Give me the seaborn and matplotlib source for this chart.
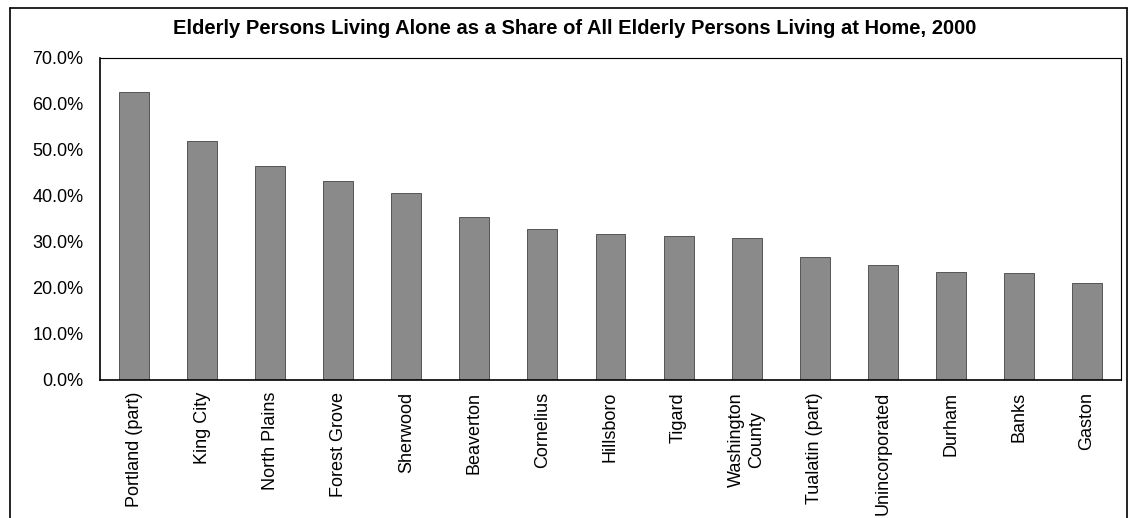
import matplotlib
matplotlib.use("Agg")
import matplotlib.pyplot as plt
import seaborn as sns
import pandas as pd
from matplotlib.ticker import PercentFormatter, FixedLocator

# Datos
lugares = ["Portland (part)", "King City", "North Plains", "Forest Grove", "Sherwood",
           "Beaverton", "Cornelius", "Hillsboro", "Tigard", "Washington\nCounty",
           "Tualatin (part)", "Unincorporated", "Durham", "Banks", "Gaston"]
porcentajes = [62.4, 51.9, 46.4, 43.2, 40.6, 35.4, 32.7, 31.7, 31.3, 30.7,
               26.7, 24.9, 23.3, 23.2, 21.0]

df = pd.DataFrame({"lugar": lugares, "pct": porcentajes})

sns.set_style("white")
plt.rcParams["font.family"] = ["Liberation Sans", "DejaVu Sans"]
plt.rcParams["text.color"] = "black"
plt.rcParams["xtick.color"] = "black"
plt.rcParams["ytick.color"] = "black"

fig = plt.figure(figsize=(11.3, 5.18), dpi=100)
ax = fig.add_axes([100 / 1130, 1 - 379.5 / 518, 1021 / 1130, 322 / 518])

sns.barplot(data=df, x="lugar", y="pct", color="#8a8a8a", width=0.44,
            edgecolor="#444444", linewidth=0.6, saturation=1, ax=ax)

ax.set_ylim(0, 70)
ax.set_xlim(-0.5, len(lugares) - 0.5)
ax.yaxis.set_major_formatter(PercentFormatter(decimals=1))
ax.set_yticks(range(0, 71, 10))
ax.set_xlabel("")
ax.set_ylabel("")

# etiquetas rotadas, marcas entre categorías
ax.set_xticks(range(len(lugares)))
ax.set_xticklabels(lugares, rotation=90, fontsize=13, ha="center", va="top",
                   multialignment="center")
ax.tick_params(axis="x", which="major", length=0, pad=9)
ax.xaxis.set_minor_locator(FixedLocator([i - 0.5 for i in range(len(lugares) + 1)]))
ax.tick_params(axis="x", which="minor", length=5, direction="out", width=0.8, color="black")
ax.tick_params(axis="y", length=4, direction="out", width=0.8, color="black",
               labelsize=13, pad=8)

for s in ax.spines.values():
    s.set_color("black")
    s.set_linewidth(0.8)
ax.spines["top"].set_linestyle((0, (1, 0.6)))
ax.spines["right"].set_linestyle((0, (1, 0.6)))
ax.spines["left"].set_linewidth(1.2)
ax.spines["bottom"].set_linewidth(1.2)

fig.text(575 / 1130, 1 - 28 / 518,
         "Elderly Persons Living Alone as a Share of All Elderly Persons Living at Home, 2000",
         ha="center", va="center", fontsize=14.5, fontweight="bold")

# marco exterior
fig.add_artist(plt.Line2D([10 / 1130, 10 / 1130], [0, 1 - 8 / 518],
                          transform=fig.transFigure, color="black", lw=1.2))
fig.add_artist(plt.Line2D([10 / 1130, 1127 / 1130], [1 - 8 / 518, 1 - 8 / 518],
                          transform=fig.transFigure, color="black", lw=1.2))
fig.add_artist(plt.Line2D([1127 / 1130, 1127 / 1130], [0, 1 - 8 / 518],
                          transform=fig.transFigure, color="black", lw=1.2))

fig.savefig("out.png", dpi=100)
